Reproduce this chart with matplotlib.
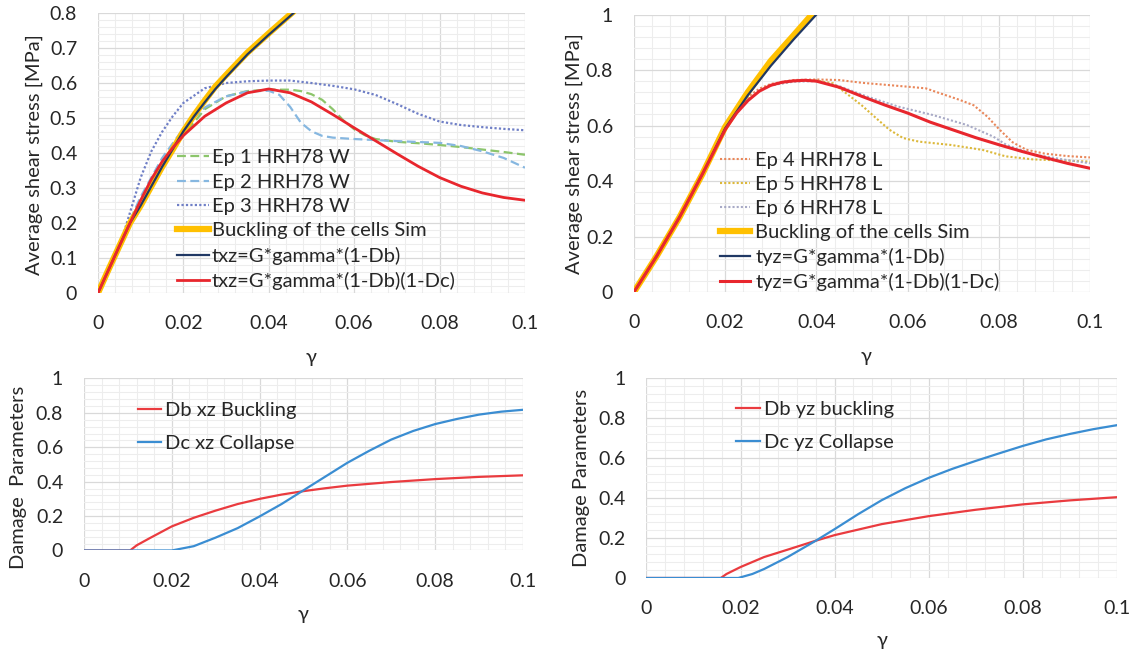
import matplotlib
matplotlib.use("Agg")
import matplotlib.pyplot as plt
from matplotlib.ticker import MultipleLocator

plt.rcParams['font.family'] = ['Lato', 'DejaVu Sans']

# ---- data ----
xticks = [0, 0.02, 0.04, 0.06, 0.08, 0.1]
xtick_labels = ["0", "0.02", "0.04", "0.06", "0.08", "0.1"]
yticks_tl = [0, 0.1, 0.2, 0.3, 0.4, 0.5, 0.6, 0.7, 0.8]
ytick_labels_tl = ["0", "0.1", "0.2", "0.3", "0.4", "0.5", "0.6", "0.7", "0.8"]
yticks_tr = [0, 0.2, 0.4, 0.6, 0.8, 1.0]
ytick_labels_tr = ["0", "0.2", "0.4", "0.6", "0.8", "1"]

# top left: xz direction
ep1_x = [0, 0.005, 0.01, 0.015, 0.02, 0.025, 0.03, 0.035, 0.04, 0.045, 0.0475, 0.05, 0.0525,
         0.055, 0.0575, 0.06, 0.0625, 0.065, 0.07, 0.075, 0.08, 0.085, 0.09, 0.095, 0.1]
ep1_y = [0, 0.14, 0.27, 0.37, 0.45, 0.525, 0.562, 0.577, 0.581, 0.581, 0.577, 0.568, 0.552,
         0.525, 0.493, 0.468, 0.451, 0.44, 0.432, 0.428, 0.423, 0.417, 0.41, 0.403, 0.395]
ep2_x = [0, 0.005, 0.01, 0.015, 0.02, 0.025, 0.03, 0.035, 0.04, 0.0425, 0.045, 0.0475, 0.05,
         0.0525, 0.055, 0.06, 0.07, 0.08, 0.085, 0.09, 0.095, 0.1]
ep2_y = [0, 0.14, 0.275, 0.385, 0.47, 0.53, 0.562, 0.576, 0.578, 0.566, 0.532, 0.487, 0.462,
         0.449, 0.444, 0.44, 0.434, 0.429, 0.42, 0.405, 0.386, 0.358]
ep3_x = [0, 0.005, 0.0075, 0.01, 0.0125, 0.015, 0.0175, 0.02, 0.025, 0.03, 0.035, 0.04, 0.045,
         0.05, 0.055, 0.06, 0.065, 0.07, 0.075, 0.08, 0.085, 0.09, 0.095, 0.1]
ep3_y = [0, 0.13, 0.23, 0.33, 0.405, 0.46, 0.505, 0.543, 0.585, 0.6, 0.605, 0.607, 0.607,
         0.6, 0.592, 0.582, 0.566, 0.54, 0.512, 0.49, 0.48, 0.474, 0.469, 0.465]
sim_xz_x = [0, 0.0025, 0.005, 0.0075, 0.01, 0.0125, 0.015, 0.0175, 0.02, 0.0225, 0.025,
            0.0275, 0.03, 0.035, 0.04, 0.0454]
sim_xz_y = [0, 0.068, 0.134, 0.2, 0.25, 0.305, 0.36, 0.41, 0.462, 0.508, 0.55,
            0.59, 0.623, 0.687, 0.742, 0.8]
db_xz_x = [0, 0.005, 0.0075, 0.01, 0.015, 0.02, 0.0225, 0.025, 0.0275, 0.03, 0.035, 0.04, 0.0458]
db_xz_y = [0, 0.134, 0.2, 0.25, 0.36, 0.462, 0.505, 0.545, 0.583, 0.617, 0.682, 0.738, 0.8]
dbdc_xz_x = [0, 0.005, 0.0075, 0.01, 0.0125, 0.015, 0.0175, 0.02, 0.025, 0.03, 0.035, 0.04,
             0.045, 0.05, 0.055, 0.06, 0.065, 0.07, 0.075, 0.08, 0.085, 0.09, 0.095, 0.1]
dbdc_xz_y = [0, 0.134, 0.2, 0.265, 0.325, 0.375, 0.415, 0.45, 0.505, 0.543, 0.572, 0.583,
             0.572, 0.546, 0.51, 0.472, 0.435, 0.398, 0.362, 0.33, 0.305, 0.286, 0.273, 0.265]

# top right: yz direction
ep4_x = [0, 0.005, 0.01, 0.015, 0.02, 0.0225, 0.025, 0.0275, 0.03, 0.035, 0.04, 0.045, 0.05,
         0.055, 0.06, 0.064, 0.067, 0.0715, 0.0745, 0.0775, 0.08, 0.083, 0.086, 0.09, 0.095, 0.1]
ep4_y = [0, 0.13, 0.275, 0.43, 0.6, 0.66, 0.703, 0.733, 0.75, 0.764, 0.766, 0.764, 0.754,
         0.747, 0.74, 0.734, 0.717, 0.692, 0.673, 0.632, 0.588, 0.54, 0.513, 0.499, 0.49, 0.485]
ep5_x = [0, 0.005, 0.01, 0.015, 0.02, 0.0225, 0.025, 0.0275, 0.03, 0.035, 0.04, 0.0437, 0.0475,
         0.05, 0.053, 0.056, 0.059, 0.0625, 0.0695, 0.0765, 0.0815, 0.0875, 0.1]
ep5_y = [0, 0.13, 0.27, 0.425, 0.59, 0.648, 0.693, 0.725, 0.745, 0.76, 0.762, 0.752, 0.704,
         0.672, 0.628, 0.585, 0.555, 0.542, 0.53, 0.512, 0.489, 0.478, 0.47]
ep6_x = [0, 0.005, 0.01, 0.015, 0.02, 0.0225, 0.025, 0.0275, 0.03, 0.035, 0.04, 0.045, 0.051,
         0.058, 0.0655, 0.073, 0.0788, 0.0817, 0.0876, 0.094, 0.1]
ep6_y = [0, 0.13, 0.27, 0.425, 0.59, 0.648, 0.693, 0.725, 0.745, 0.758, 0.76, 0.742, 0.705,
         0.668, 0.638, 0.602, 0.56, 0.53, 0.496, 0.478, 0.464]
sim_yz_x = [0, 0.005, 0.01, 0.015, 0.02, 0.025, 0.03, 0.035, 0.039]
sim_yz_y = [0, 0.13, 0.27, 0.425, 0.595, 0.721, 0.833, 0.925, 1.0]
db_yz_x = [0, 0.005, 0.01, 0.015, 0.02, 0.025, 0.03, 0.035, 0.04]
db_yz_y = [0, 0.13, 0.27, 0.425, 0.59, 0.71, 0.815, 0.91, 1.0]
dbdc_yz_x = [0, 0.005, 0.01, 0.015, 0.02, 0.0225, 0.025, 0.0275, 0.03, 0.0325, 0.035, 0.0375,
             0.04, 0.045, 0.05, 0.055, 0.06, 0.065, 0.07, 0.075, 0.08, 0.085, 0.09, 0.095, 0.1]
dbdc_yz_y = [0, 0.13, 0.27, 0.425, 0.585, 0.645, 0.69, 0.724, 0.745, 0.756, 0.761, 0.763,
             0.76, 0.738, 0.705, 0.674, 0.645, 0.612, 0.584, 0.556, 0.531, 0.507, 0.485, 0.464,
             0.446]

# bottom: damage parameters
db_b_xz_x = [0, 0.0105, 0.012, 0.015, 0.02, 0.025, 0.03, 0.035, 0.04, 0.045, 0.05, 0.055,
             0.06, 0.07, 0.08, 0.09, 0.1]
db_b_xz_y = [0, 0, 0.03, 0.072, 0.14, 0.19, 0.232, 0.27, 0.3, 0.325, 0.345, 0.362,
             0.377, 0.398, 0.415, 0.428, 0.437]
dc_xz_x = [0, 0.02, 0.025, 0.03, 0.035, 0.04, 0.045, 0.05, 0.055, 0.06, 0.065, 0.07, 0.075,
           0.08, 0.085, 0.09, 0.095, 0.1]
dc_xz_y = [0, 0, 0.025, 0.075, 0.13, 0.198, 0.27, 0.35, 0.43, 0.51, 0.58, 0.645, 0.695,
           0.735, 0.765, 0.79, 0.807, 0.818]
db_b_yz_x = [0, 0.0158, 0.017, 0.02, 0.025, 0.03, 0.036, 0.04, 0.05, 0.06, 0.07, 0.08, 0.09, 0.1]
db_b_yz_y = [0, 0, 0.02, 0.055, 0.105, 0.142, 0.187, 0.215, 0.27, 0.31, 0.342, 0.369, 0.389, 0.405]
dc_yz_x = [0, 0.0195, 0.0225, 0.025, 0.03, 0.036, 0.04, 0.045, 0.05, 0.055, 0.06, 0.065, 0.07,
           0.075, 0.08, 0.085, 0.09, 0.095, 0.1]
dc_yz_y = [0, 0, 0.02, 0.045, 0.105, 0.187, 0.245, 0.32, 0.39, 0.45, 0.502, 0.547, 0.587,
           0.625, 0.662, 0.695, 0.722, 0.746, 0.766]

TXT = '#262626'
FS = 14.5
TFS = 14


def style(ax, ymax, ymajor, yticks, ylabels):
    ax.set_xlim(0, 0.1)
    ax.set_ylim(0, ymax)
    ax.set_xticks(xticks)
    ax.set_xticklabels(xtick_labels)
    ax.set_yticks(yticks)
    ax.set_yticklabels(ylabels)
    ax.xaxis.set_minor_locator(MultipleLocator(0.004))
    ax.yaxis.set_minor_locator(MultipleLocator(ymajor / 5))
    ax.grid(which='major', color='#d9d9d9', lw=0.9)
    ax.grid(which='minor', color='#ededed', lw=0.8)
    ax.set_axisbelow(True)
    for s in ax.spines.values():
        s.set_visible(False)
    ax.tick_params(which='both', length=0, labelsize=TFS, colors=TXT)
    ax.tick_params(axis='y', pad=15)
    ax.tick_params(axis='x', pad=16)


def legend(ax, anchor, hl, tp, ls):
    ax.legend(loc='center left', bbox_to_anchor=anchor, frameon=False, fontsize=FS,
              borderpad=0, borderaxespad=0, handlelength=hl, handletextpad=tp,
              labelspacing=ls, labelcolor=TXT)


fig = plt.figure(figsize=(11.38, 6.58), dpi=100)

# ---------- top left ----------
ax1 = fig.add_axes([0.0861, 0.5547, 0.3752, 0.4255])
style(ax1, 0.8, 0.1, yticks_tl, ytick_labels_tl)
ax1.plot(ep1_x, ep1_y, color='#8cc56b', lw=1.6, ls=(0, (4, 2)), label='Ep 1 HRH78 W')
ax1.plot(ep2_x, ep2_y, color='#86b7e0', lw=1.6, ls=(0, (4, 2)), label='Ep 2 HRH78 W')
ax1.plot(ep3_x, ep3_y, color='#6f7fc6', lw=1.6, ls=(0, (1, 1)), label='Ep 3 HRH78 W')
ax1.plot(sim_xz_x, sim_xz_y, color='#ffc000', lw=4.5, label='Buckling of the cells Sim')
ax1.plot(db_xz_x, db_xz_y, color='#203864', lw=1.6, label='txz=G*gamma*(1-Db)')
ax1.plot(dbdc_xz_x, dbdc_xz_y, color='#e8262d', lw=2, label='txz=G*gamma*(1-Db)(1-Dc)')
legend(ax1, (0.184, 0.262), 1.6, 0.15, 0.36)
ax1.set_ylabel('Average shear stress [MPa]', fontsize=FS, color=TXT, va='center')
ax1.yaxis.set_label_coords(-0.149, 0.493)
ax1.set_xlabel('γ', fontsize=FS, color=TXT, va='center')
ax1.xaxis.set_label_coords(0.5, -0.232)

# ---------- top right ----------
ax2 = fig.add_axes([0.5571, 0.5562, 0.4007, 0.4217])
style(ax2, 1.0, 0.2, yticks_tr, ytick_labels_tr)
ax2.plot(ep4_x, ep4_y, color='#e9875a', lw=1.5, ls=(0, (1, 1)), label='Ep 4 HRH78 L')
ax2.plot(ep5_x, ep5_y, color='#dcb83a', lw=1.5, ls=(0, (1, 1)), label='Ep 5 HRH78 L')
ax2.plot(ep6_x, ep6_y, color='#a8aac6', lw=1.5, ls=(0, (1, 1)), label='Ep 6 HRH78 L')
ax2.plot(sim_yz_x, sim_yz_y, color='#ffc000', lw=4.5, label='Buckling of the cells Sim')
ax2.plot(db_yz_x, db_yz_y, color='#203864', lw=1.6, label='tyz=G*gamma*(1-Db)')
ax2.plot(dbdc_yz_x, dbdc_yz_y, color='#e8262d', lw=2.2, label='tyz=G*gamma*(1-Db)(1-Dc)')
legend(ax2, (0.189, 0.255), 1.5, 0.25, 0.34)
ax2.set_ylabel('Average shear stress [MPa]', fontsize=FS, color=TXT, va='center')
ax2.yaxis.set_label_coords(-0.13, 0.5)
ax2.set_xlabel('γ', fontsize=FS, color=TXT, va='center')
ax2.xaxis.set_label_coords(0.51, -0.234)

# ---------- bottom left ----------
ax3 = fig.add_axes([0.0738, 0.1634, 0.3858, 0.2614])
style(ax3, 1.0, 0.2, yticks_tr, ytick_labels_tr)
ax3.plot(db_b_xz_x, db_b_xz_y, color='#ea3b3f', lw=1.6, label='Db xz Buckling')
ax3.plot(dc_xz_x, dc_xz_y, color='#3a8dd2', lw=1.6, label='Dc xz Collapse')
legend(ax3, (0.122, 0.718), 1.16, 0.2, 0.8)
ax3.set_ylabel('Damage  Parameters', fontsize=FS, color=TXT, va='center')
ax3.yaxis.set_label_coords(-0.150, 0.424)
ax3.set_xlabel('γ', fontsize=FS, color=TXT, va='center')
ax3.xaxis.set_label_coords(0.5, -0.375)

# ---------- bottom right ----------
ax4 = fig.add_axes([0.5681, 0.1216, 0.4134, 0.3032])
style(ax4, 1.0, 0.2, yticks_tr, ytick_labels_tr)
ax4.plot(db_b_yz_x, db_b_yz_y, color='#ea3b3f', lw=1.6, label='Db yz buckling')
ax4.plot(dc_yz_x, dc_yz_y, color='#3a8dd2', lw=1.6, label='Dc yz Collapse')
legend(ax4, (0.19, 0.762), 1.2, 0.18, 0.82)
ax4.set_ylabel('Damage Parameters', fontsize=FS, color=TXT, va='center')
ax4.yaxis.set_label_coords(-0.139, 0.5)
ax4.set_xlabel('γ', fontsize=FS, color=TXT, va='center')
ax4.xaxis.set_label_coords(0.5, -0.311)

fig.savefig('out.png', dpi=100)
